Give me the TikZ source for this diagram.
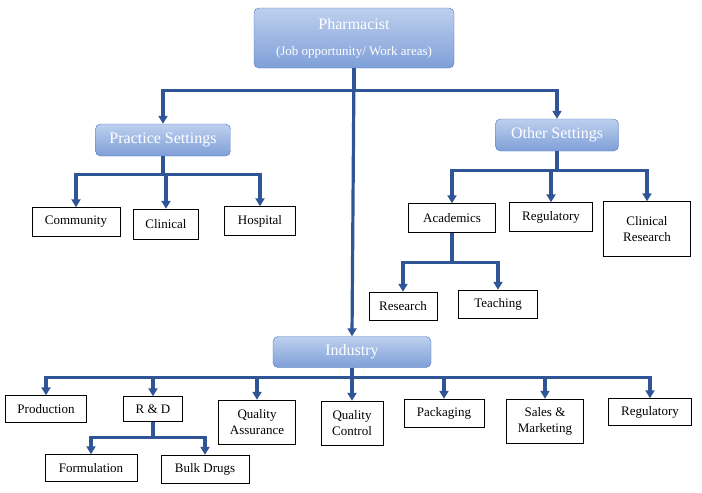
\documentclass[tikz,border=0pt]{standalone}
\usepackage{fontspec}
\setmainfont{Liberation Serif}
\usetikzlibrary{arrows.meta}
\definecolor{lnblue}{HTML}{2F5597}
\definecolor{hdtop}{HTML}{BDD0EE}
\definecolor{hdbot}{HTML}{7F9FD8}
\definecolor{hdbd}{HTML}{4472C4}
\begin{document}
\begin{tikzpicture}[x=1pt,y=-1pt,
  head/.style={draw=hdbd, rounded corners=5pt, top color=hdtop, bottom color=hdbot,
    text=white, font=\fontsize{16}{18}\selectfont, inner sep=0pt, align=center},
  leaf/.style={draw=black, fill=white, inner sep=0pt, align=center,
    font=\fontsize{13}{16}\selectfont},
  conn/.style={draw=lnblue, line width=3.2pt, -{Triangle[length=8pt,width=9pt]}}]
\useasboundingbox (0,0) rectangle (702,493);

% headings
\node[head, minimum width=200pt, minimum height=60pt] (pharm) at (354,38) {};
\node[text=white, font=\fontsize{16}{18}\selectfont] at (354,24) {Pharmacist};
\node[text=white, font=\fontsize{13}{15}\selectfont] at (354,52) {(Job opportunity/ Work areas)};
\node[head, minimum width=135pt, minimum height=32pt] (prac) at (163,140) {Practice Settings};
\node[head, minimum width=123pt, minimum height=32pt] (other) at (557,135) {Other Settings};
\node[head, minimum width=158pt, minimum height=31pt] (ind) at (352,352) {Industry};

% practice settings
\node[leaf, minimum width=88pt, minimum height=29pt] (comm) at (76,222) {Community};
\node[leaf, minimum width=65pt, minimum height=30pt] (clin) at (166,224) {Clinical};
\node[leaf, minimum width=71pt, minimum height=29pt] (hosp) at (260,221) {Hospital};

% other settings
\node[leaf, minimum width=87pt, minimum height=29pt] (acad) at (452,218) {Academics};
\node[leaf, minimum width=83pt, minimum height=29pt] (regu) at (551,217) {Regulatory};
\node[leaf, minimum width=87pt, minimum height=55pt] (cres) at (647,229) {Clinical\\Research};
\node[leaf, minimum width=68pt, minimum height=28pt] (rese) at (403,306) {Research};
\node[leaf, minimum width=79pt, minimum height=28pt] (teach) at (498,304) {Teaching};

% industry
\node[leaf, minimum width=81pt, minimum height=27pt] (prod) at (46,409) {Production};
\node[leaf, minimum width=59pt, minimum height=25pt] (rnd) at (153,409) {R \& D};
\node[leaf, minimum width=77pt, minimum height=44pt] (qa) at (257,422) {Quality\\Assurance};
\node[leaf, minimum width=62pt, minimum height=44pt] (qc) at (352,423) {Quality\\Control};
\node[leaf, minimum width=80pt, minimum height=28pt] (pack) at (444,413) {Packaging};
\node[leaf, minimum width=77pt, minimum height=44pt] (sales) at (545,421) {Sales \&\\Marketing};
\node[leaf, minimum width=83pt, minimum height=27pt] (regi) at (650,412) {Regulatory};
\node[leaf, minimum width=92pt, minimum height=27pt] (form) at (91,468) {Formulation};
\node[leaf, minimum width=88pt, minimum height=28pt] (bulk) at (205,469) {Bulk Drugs};

% connectors
\foreach \c in {prac,other} \draw[conn] (pharm.south) -- ++(0,22) -| (\c.north);
\draw[conn] (pharm.south) -- (ind.north);
\foreach \c in {comm,clin,hosp} \draw[conn] (prac.south) -- ++(0,18) -| (\c.north);
\foreach \c in {acad,regu,cres} \draw[conn] (other.south) -- ++(0,19) -| (\c.north);
\foreach \c in {rese,teach} \draw[conn] (acad.south) -- ++(0,30) -| (\c.north);
\foreach \c in {prod,rnd,qa,qc,pack,sales,regi} \draw[conn] (ind.south) -- ++(0,10) -| (\c.north);
\foreach \c in {form,bulk} \draw[conn] (rnd.south) -- ++(0,16) -| (\c.north);
\end{tikzpicture}
\end{document}
